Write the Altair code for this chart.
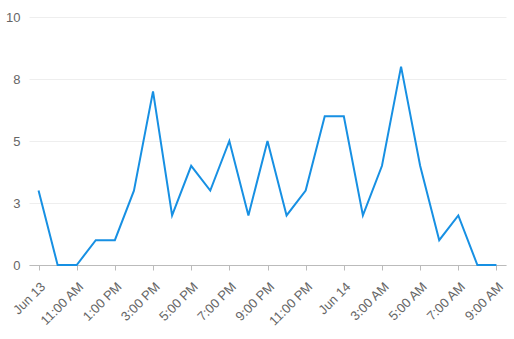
import altair as alt
import pandas as pd

labels = ["Jun 13", "", "11:00 AM", "", "1:00 PM", "", "3:00 PM", "", "5:00 PM", "",
          "7:00 PM", "", "9:00 PM", "", "11:00 PM", "", "Jun 14", "", "3:00 AM", "",
          "5:00 AM", "", "7:00 AM", "", "9:00 AM"]
values = [3, 0, 0, 1, 1, 3, 7, 2, 4, 3, 5, 2, 5, 2, 3, 6, 6, 2, 4, 8, 4, 1, 2, 0, 0]

df = pd.DataFrame({"i": list(range(len(values))), "v": values})
label_js = "[" + ",".join('"%s"' % l for l in labels) + "]"

chart = alt.Chart(df).mark_line(color="#1790e3", strokeWidth=2).encode(
    x=alt.X("i:Q", scale=alt.Scale(domain=[-0.5, 24.5], nice=False, zero=False),
            axis=alt.Axis(title=None, values=list(range(0, 25, 2)), grid=False,
                          labelExpr=label_js + "[datum.value]",
                          labelAngle=-45, labelAlign="right", labelBaseline="top",
                          labelPadding=10, tickSize=5, domainColor="#bbbbbb",
                          tickColor="#bbbbbb", labelColor="#666666", labelFontSize=13,
                          labelFont="Liberation Sans", labelOverlap=False, labelFlush=False)),
    y=alt.Y("v:Q", scale=alt.Scale(domain=[0, 10], nice=False),
            axis=alt.Axis(title=None, values=[0, 2.5, 5, 7.5, 10], format=".0f",
                          domain=False, ticks=False, gridColor="#eeeeee",
                          labelColor="#666666", labelFontSize=13, labelPadding=9,
                          labelFont="Liberation Sans")),
).properties(
    width=477, height=248, autosize=alt.AutoSizeParams(type="none"),
    padding={"left": 29, "top": 17, "right": 8, "bottom": 74}
).configure_view(stroke=None)

chart.save("out.html", embed_options={"renderer": "svg", "actions": False})
